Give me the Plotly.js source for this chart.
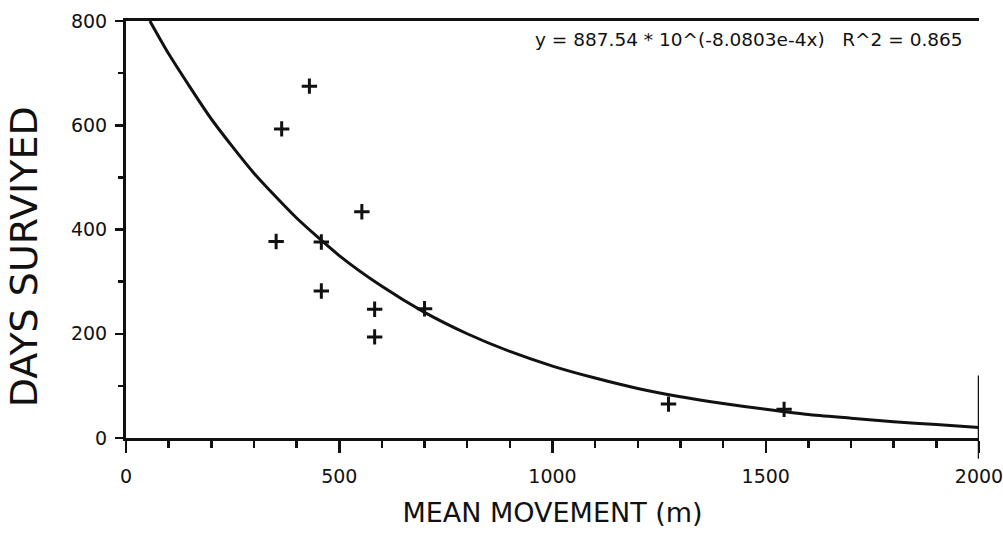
<!DOCTYPE html>
<html>
<head>
<meta charset="utf-8">
<script src="https://cdn.plot.ly/plotly-3.0.1.min.js"></script>
<style>html,body{margin:0;padding:0;background:#fff;}#chart{width:1003px;height:538px;}</style>
</head>
<body>
<div id="chart"></div>
<script>
const movement = [430, 365, 553, 352, 458, 458, 583, 583, 700, 1272, 1543];
const daysSurvived = [675, 593, 434, 377, 376, 282, 247, 194, 248, 65, 55];

// Fitted curve as drawn in the picture
const fitX = [56, 100, 200, 300, 400, 500, 600, 700, 800, 900, 1000, 1100, 1200, 1300, 1400, 1500, 1600, 1700, 1800, 1900, 2000];
const fitY = [800, 737, 612, 508, 422, 350, 291, 241, 200, 166, 138, 115, 95, 79, 66, 55, 45, 38, 31, 26, 20];

const xTicks = [0, 500, 1000, 1500, 2000];
const yTicks = [0, 200, 400, 600, 800];
const equationText = "y = 887.54 * 10^(-8.0803e-4x)   R^2 = 0.865";
const xTitle = "MEAN MOVEMENT (m)";
const yTitle = "DAYS SURVIYED";

const FONT = "DejaVu Sans, Liberation Sans, Arial, sans-serif";
const INK = "#111111";

const traces = [
  {
    x: fitX, y: fitY, type: "scatter", mode: "lines",
    line: {color: INK, width: 3, shape: "spline", smoothing: 0.6},
    hoverinfo: "skip", showlegend: false
  },
  {
    x: movement, y: daysSurvived, type: "scatter", mode: "markers",
    marker: {symbol: "cross-thin", size: 11, line: {color: INK, width: 3}, color: INK},
    showlegend: false
  }
];

const layout = {
  width: 1003, height: 538,
  margin: {l: 126, r: 24, t: 21, b: 100},
  paper_bgcolor: "#ffffff", plot_bgcolor: "#ffffff",
  font: {family: FONT, color: INK, size: 19},
  showlegend: false,
  xaxis: {
    range: [0, 2000], tickvals: xTicks, ticktext: xTicks.map(String),
    showgrid: false, zeroline: false,
    showline: true, linecolor: INK, linewidth: 3, mirror: true,
    ticks: "outside", ticklen: 12, tickwidth: 2.5, tickcolor: INK,
    ticklabelstandoff: 7, ticklabeloverflow: "allow",
    minor: {dtick: 100, ticks: "outside", ticklen: 7, tickwidth: 2.5, tickcolor: INK, showgrid: false},
    tickfont: {family: FONT, size: 19, color: INK},
    title: {text: xTitle, font: {family: FONT, size: 27, color: INK}, standoff: 18}
  },
  yaxis: {
    range: [0, 800], tickvals: yTicks, ticktext: yTicks.map(String),
    showgrid: false, zeroline: false,
    showline: true, linecolor: INK, linewidth: 3, mirror: false,
    ticks: "outside", ticklen: 8, tickwidth: 2.5, tickcolor: INK,
    ticklabelstandoff: 4, ticklabeloverflow: "allow",
    minor: {dtick: 100, ticks: "outside", ticklen: 5, tickwidth: 2.5, tickcolor: INK, showgrid: false},
    tickfont: {family: FONT, size: 19, color: INK}
  },
  shapes: [
    {type: "line", xref: "x", yref: "paper", x0: 2000, x1: 2000, y0: -0.05, y1: 0.15,
     line: {color: INK, width: 2.5}}
  ],
  annotations: [
    {text: equationText, xref: "paper", yref: "paper", x: 0.9836, y: 0.955,
     xanchor: "right", yanchor: "middle", showarrow: false,
     font: {family: FONT, size: 18.5, color: INK}},
    {text: yTitle, xref: "paper", yref: "paper", x: -0.12, y: 0.435,
     xanchor: "center", yanchor: "middle", textangle: -90, showarrow: false,
     font: {family: FONT, size: 38, color: INK}}
  ]
};

Plotly.newPlot("chart", traces, layout, {displayModeBar: false, staticPlot: true});
</script>
</body>
</html>
